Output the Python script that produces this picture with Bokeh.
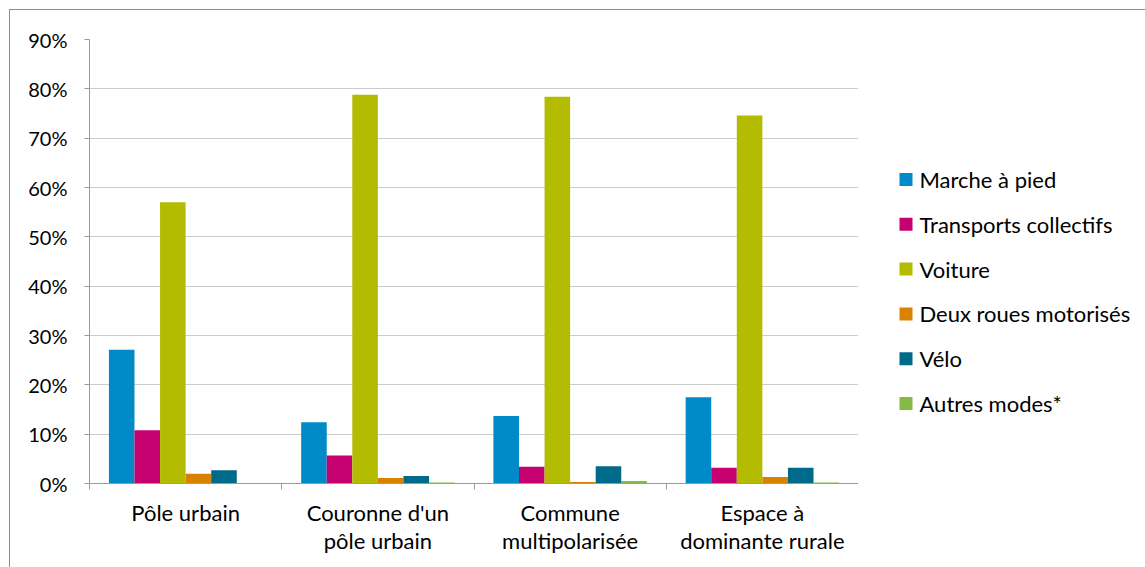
from bokeh.plotting import figure
from bokeh.layouts import row
from bokeh.models import (Range1d, FixedTicker, PrintfTickFormatter, ColumnDataSource)
from bokeh.core.properties import value
from bokeh.embed import file_html
from bokeh.resources import INLINE

categories = ["Pôle urbain", "Couronne d'un\npôle urbain", "Commune\nmultipolarisée",
              "Espace à\ndominante rurale"]
series = ["Marche à pied", "Transports collectifs", "Voiture", "Deux roues motorisés",
          "Vélo", "Autres modes*"]
marche = [27.1, 12.4, 13.7, 17.5]
transports = [10.8, 5.7, 3.4, 3.2]
voiture = [57.0, 78.8, 78.4, 74.6]
deux_roues = [2.0, 1.1, 0.3, 1.3]
velo = [2.7, 1.5, 3.5, 3.2]
autres = [0.1, 0.2, 0.5, 0.2]
y_ticks = [0, 10, 20, 30, 40, 50, 60, 70, 80, 90]
colors = ["#008BC8", "#C6006F", "#B3BC00", "#D98200", "#006A8A", "#84BB47"]

values = [marche, transports, voiture, deux_roues, velo, autres]

FONT = "Lato"
H = 557
p = figure(width=848, height=H, output_backend="svg", toolbar_location=None,
           x_range=Range1d(0, 4), y_range=Range1d(0, 90),
           min_border_left=79, min_border_top=29, min_border_bottom=84, min_border_right=0)
p.outline_line_color = None

bw = 0.133
for i, (name, vals) in enumerate(zip(series, values)):
    xs = [k + 0.5 + (i - 2.5) * bw for k in range(len(categories))]
    src = ColumnDataSource(dict(x=xs, top=vals))
    p.vbar(x="x", top="top", width=bw, source=src, fill_color=colors[i], line_color=None)

p.xgrid.grid_line_color = None
p.ygrid.ticker = FixedTicker(ticks=y_ticks)
p.ygrid.grid_line_color = "#cccccc"
p.ygrid.grid_line_width = 1

AX = "#9a9a9a"
p.yaxis.ticker = FixedTicker(ticks=y_ticks)
p.yaxis.formatter = PrintfTickFormatter(format="%d%%")
p.yaxis.axis_line_color = AX
p.yaxis.major_tick_line_color = AX
p.yaxis.major_tick_out = 5
p.yaxis.major_tick_in = 0
p.yaxis.minor_tick_line_color = None
p.yaxis.major_label_standoff = 17
p.yaxis.major_label_text_font = FONT
p.yaxis.major_label_text_font_size = "20px"
p.yaxis.major_label_text_color = "#000000"

p.xaxis.ticker = FixedTicker(ticks=[0.5, 1.5, 2.5, 3.5], minor_ticks=[0, 1, 2, 3, 4])
p.xaxis.major_label_overrides = {0.5 + k: c for k, c in enumerate(categories)}
p.xaxis.axis_line_color = AX
p.xaxis.major_tick_line_color = None
p.xaxis.major_tick_out = 0
p.xaxis.major_tick_in = 0
p.xaxis.minor_tick_line_color = AX
p.xaxis.minor_tick_out = 6
p.xaxis.minor_tick_in = 0
p.xaxis.major_label_standoff = 9
p.xaxis.major_label_text_font = FONT
p.xaxis.major_label_text_font_size = "22px"
p.xaxis.major_label_text_color = "#000000"
p.xaxis.major_label_text_line_height = 1.06

# legend panel: its frame is aligned with the chart frame (444 px high)
LW = 287
q = figure(width=LW, height=H, output_backend="svg", toolbar_location=None,
           x_range=Range1d(0, LW), y_range=Range1d(0, 444),
           x_axis_type=None, y_axis_type=None, min_border=0)
q.outline_line_color = None
q.grid.visible = False
ly = [304 - 44.8 * i for i in range(len(series))]
q.rect(x=[47.5] * len(series), y=ly, width=13, height=13, fill_color=colors, line_color=None)
q.text(x=[61] * len(series), y=ly, text=series, text_baseline="middle", text_align="left",
       text_font=value(FONT), text_font_size="22px", text_color="#000000")

layout = row(p, q)
layout.styles = {"border-left": "1px solid #8c8c8c", "border-top": "1px solid #8c8c8c",
                 "margin-left": "9px", "margin-top": "9px"}

open("out.html", "w").write(file_html(layout, INLINE))
